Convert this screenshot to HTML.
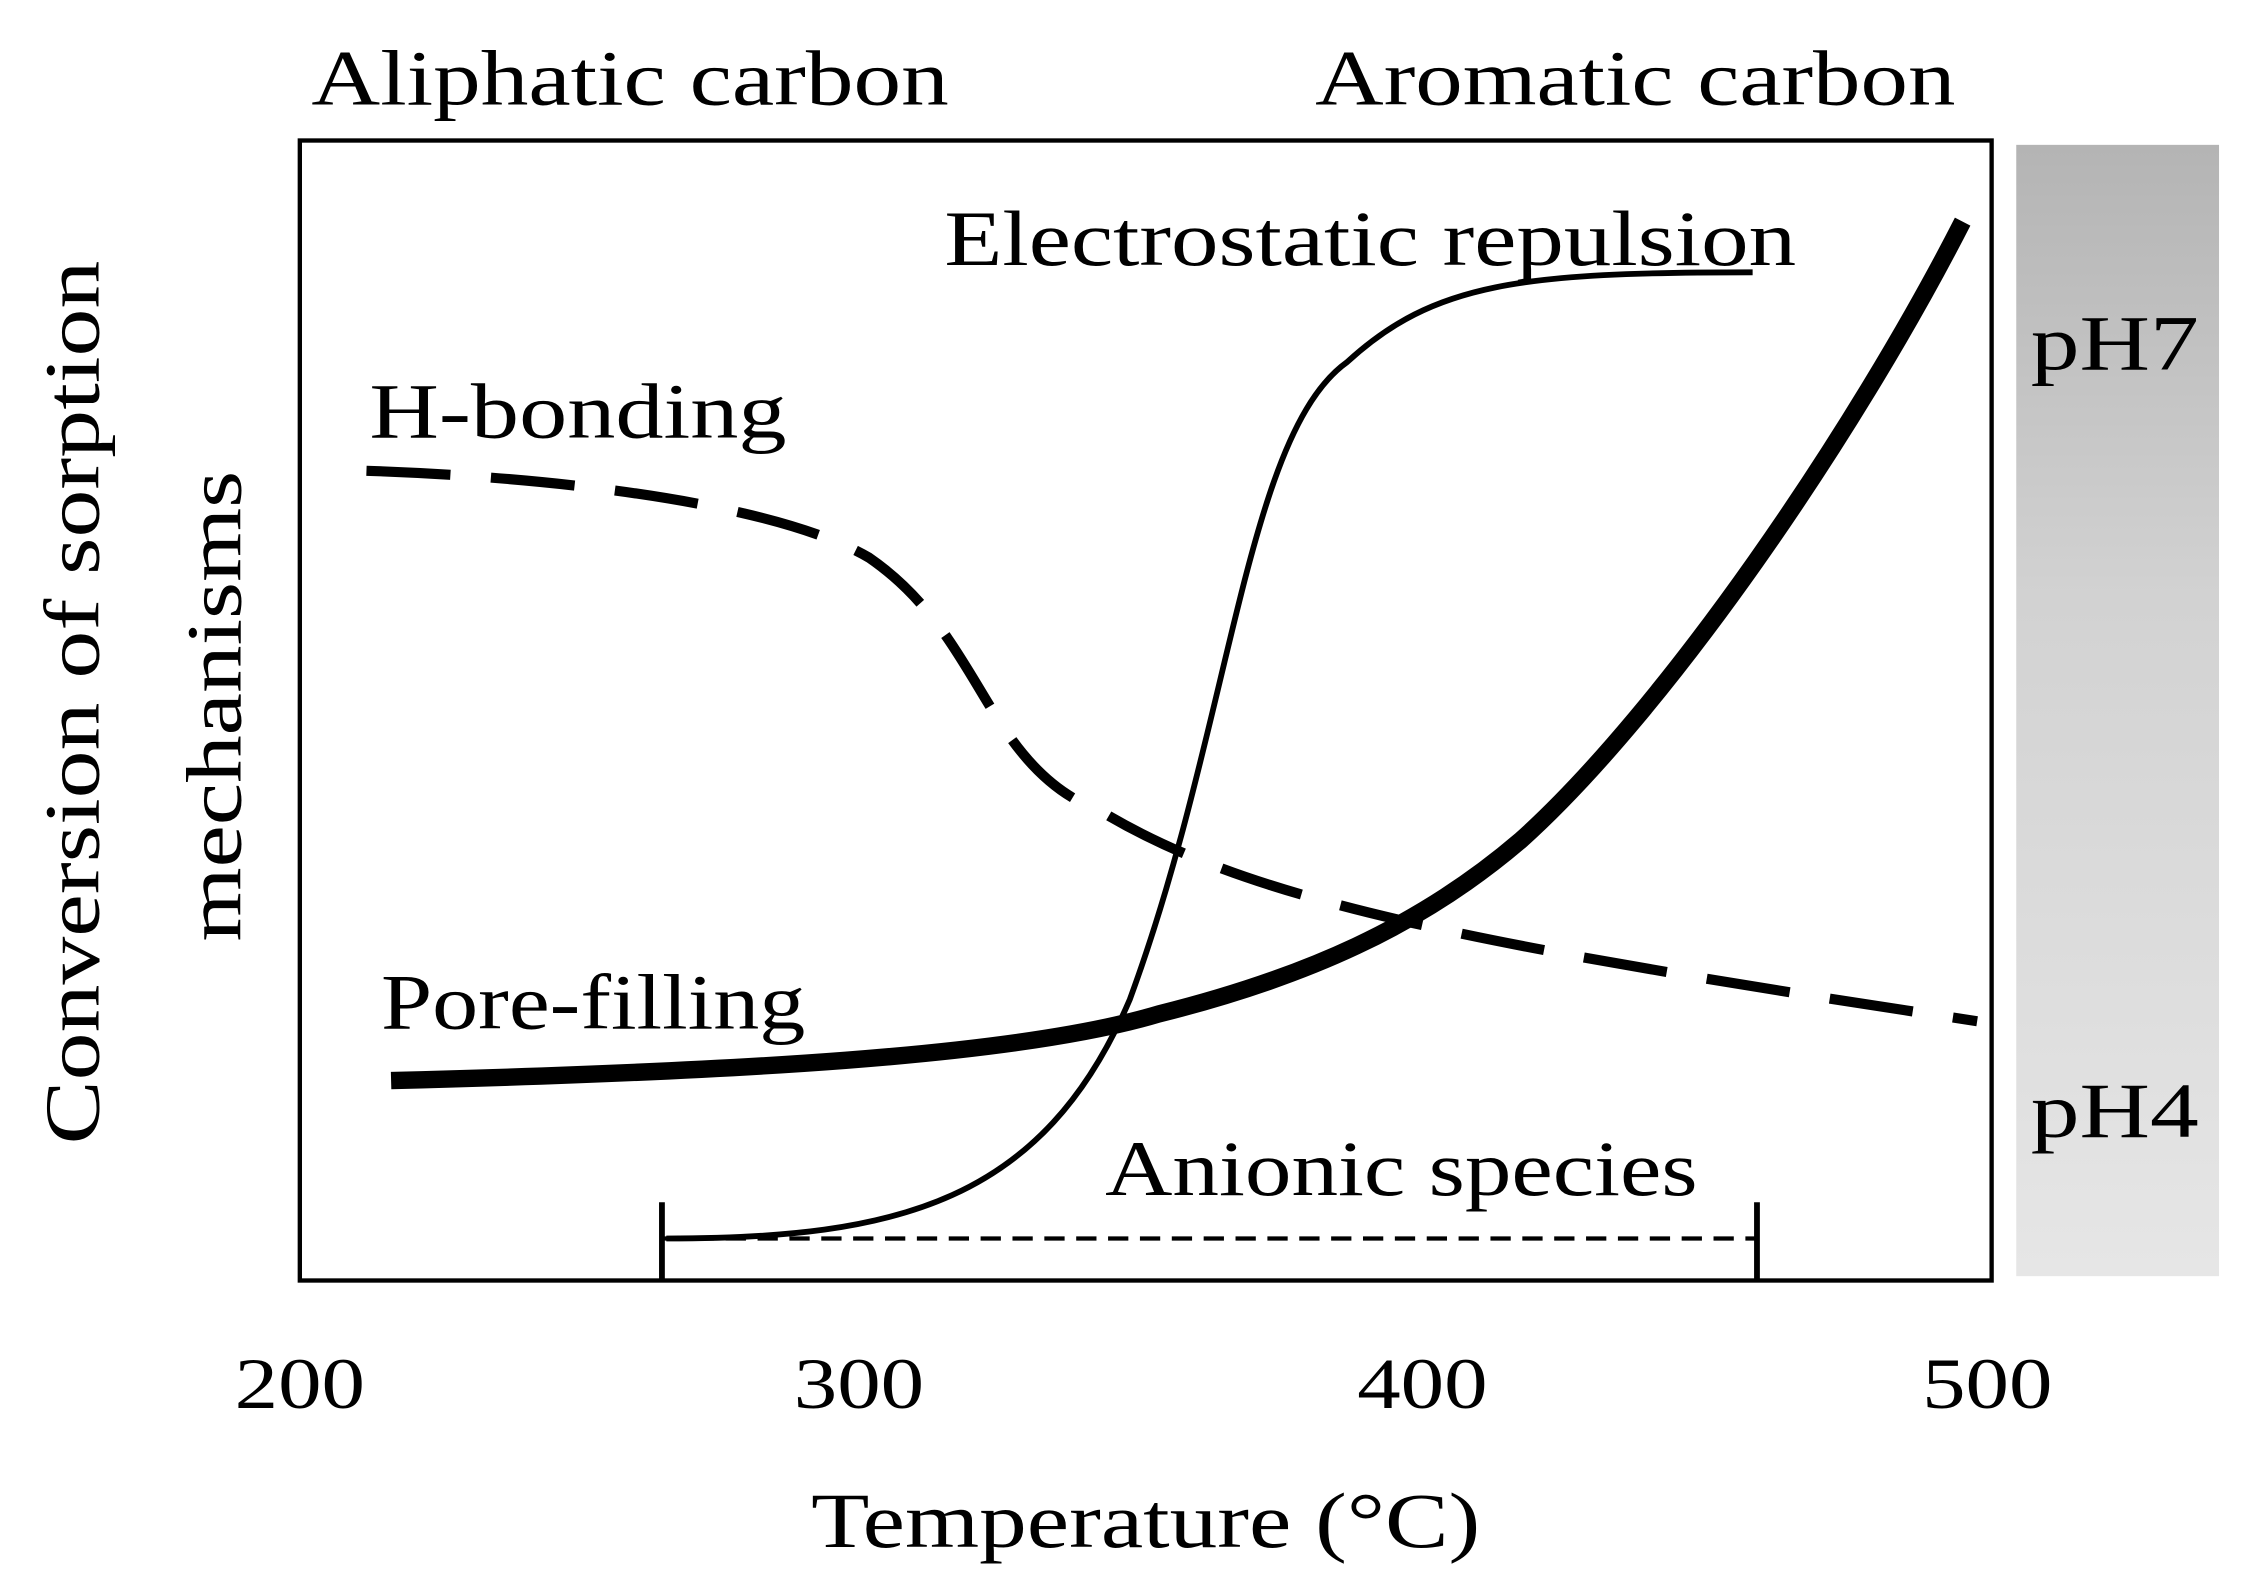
<!DOCTYPE html>
<html><head><meta charset="utf-8">
<style>html,body{margin:0;padding:0;background:#fff;}svg{display:block}</style>
</head><body>
<svg width="2248" height="1576" viewBox="0 0 1552 1088" preserveAspectRatio="none" xmlns="http://www.w3.org/2000/svg" font-family="'Liberation Serif', serif" fill="#000">
<defs>
<linearGradient id="g" x1="0" y1="0" x2="0" y2="1">
<stop offset="0" stop-color="#b4b4b4"/><stop offset="0.4" stop-color="#d2d2d2"/><stop offset="1" stop-color="#e6e6e6"/>
</linearGradient>
</defs>
<rect x="1392" y="100" width="140" height="781" fill="url(#g)"/>
<rect x="207" y="97" width="1168" height="787" fill="none" stroke="#000" stroke-width="3"/>
<g font-size="54">
<text x="215" y="72" textLength="440" lengthAdjust="spacingAndGlyphs">Aliphatic carbon</text>
<text x="908" y="72" textLength="442" lengthAdjust="spacingAndGlyphs">Aromatic carbon</text>
<text x="652" y="183" textLength="588" lengthAdjust="spacingAndGlyphs">Electrostatic repulsion</text>
<text x="255" y="302" textLength="288" lengthAdjust="spacingAndGlyphs">H-bonding</text>
<text x="263" y="710" textLength="293" lengthAdjust="spacingAndGlyphs">Pore-filling</text>
<text x="763" y="825" textLength="409" lengthAdjust="spacingAndGlyphs">Anionic species</text>
<text x="1402" y="255" textLength="116" lengthAdjust="spacingAndGlyphs">pH7</text>
<text x="1402" y="785" textLength="116" lengthAdjust="spacingAndGlyphs">pH4</text>
<text x="162" y="972" font-size="50" textLength="90" lengthAdjust="spacingAndGlyphs">200</text>
<text x="548" y="972" font-size="50" textLength="90" lengthAdjust="spacingAndGlyphs">300</text>
<text x="937" y="972" font-size="50" textLength="90" lengthAdjust="spacingAndGlyphs">400</text>
<text x="1327" y="972" font-size="50" textLength="90" lengthAdjust="spacingAndGlyphs">500</text>
<text x="560" y="1068" textLength="462" lengthAdjust="spacingAndGlyphs">Temperature (°C)</text>
<text transform="translate(68,790) rotate(-90)" textLength="610" lengthAdjust="spacingAndGlyphs">Conversion of sorption</text>
<text transform="translate(166,650) rotate(-90)" textLength="325" lengthAdjust="spacingAndGlyphs">mechanisms</text>
</g>
<g fill="none" stroke="#000" stroke-linecap="butt">
<path d="M270,746 C500,740 700,730 800,700 C900,675 980,640 1050,580 C1150,490 1280,300 1355,153" stroke-width="12"/>
<path d="M460,855 C620,855 720,830 780,690 C850,500 860,300 930,250 C990,195 1050,188 1210,188" stroke-width="4"/>
<path d="M253,325 C400,330 540,350 600,385 C680,440 680,530 760,560 C860,620 1000,650 1365,705" stroke-width="7" stroke-dasharray="58,28"/>
<path d="M457,830 V884 M1213,830 V884" stroke-width="4"/>
<path d="M457,855 H1213" stroke-width="3" stroke-dasharray="14,8"/>
</g>
</svg>
</body></html>
